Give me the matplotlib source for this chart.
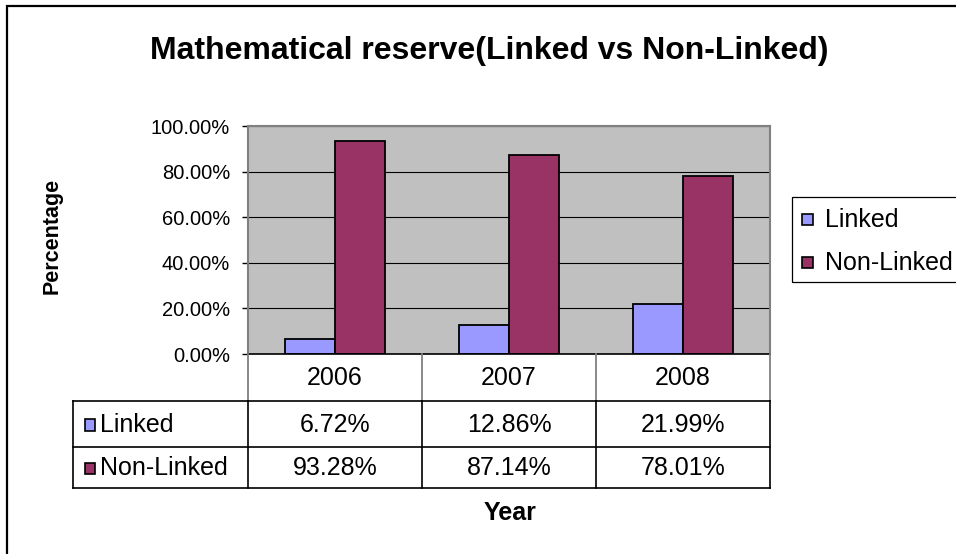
import matplotlib.pyplot as plt
from matplotlib.patches import Rectangle
import numpy as np

plt.rcParams['font.family'] = ['Liberation Sans', 'DejaVu Sans']

years = ['2006', '2007', '2008']
linked = [6.72, 12.86, 21.99]
non_linked = [93.28, 87.14, 78.01]
series_names = ['Linked', 'Non-Linked']
series_colors = ['#9999FF', '#993366']
yticks = [0, 20, 40, 60, 80, 100]

W, H = 956, 554


def fx(x):
    return x / W


def fy(y):
    return 1 - y / H


fig = plt.figure(figsize=(W / 100, H / 100), dpi=100)

# outer chart border
fig.patches.append(Rectangle((fx(7), fy(600)), fx(1000), fy(6) - fy(600),
                             transform=fig.transFigure, fill=False,
                             edgecolor='black', linewidth=1.6))

# plot area
px_l, px_r, px_t, px_b = 248, 770, 126, 354
ax = fig.add_axes([fx(px_l), fy(px_b), fx(px_r - px_l), fy(px_t) - fy(px_b)])
ax.set_facecolor('#C0C0C0')

x = np.arange(len(years))
w = 0.29
ax.bar(x - w / 2, linked, w, color=series_colors[0], edgecolor='black', linewidth=1.3, zorder=3)
ax.bar(x + w / 2, non_linked, w, color=series_colors[1], edgecolor='black', linewidth=1.3, zorder=3)

ax.set_xlim(-0.5, len(years) - 0.5)
ax.set_ylim(0, 100)
ax.set_yticks(yticks)
ax.set_yticklabels([f"{t:.2f}%" for t in yticks], fontsize=14.5)
ax.set_xticks([])
ax.tick_params(axis='y', direction='out', length=4, width=1, pad=9, color='black')
ax.grid(axis='y', color='black', linewidth=0.8, zorder=1)
for s in ['left', 'top', 'right']:
    ax.spines[s].set_color('#808080')
    ax.spines[s].set_linewidth(1.5)
ax.spines['bottom'].set_color('black')
ax.spines['bottom'].set_linewidth(1.2)
ax.spines['bottom'].set_zorder(4)

# data table below the plot
tl, tr, tt, tb = 73, 770, 354, 488
row_lines = [354, 400.5, 446.5, 488]
tab = fig.add_axes([fx(tl), fy(tb), fx(tr - tl), fy(tt) - fy(tb)])
data_per_px = 1 / ((px_r - px_l) / len(years))
tab.set_xlim(-0.5 - (px_l - tl) * data_per_px, len(years) - 0.5)
tab.set_ylim(tb, tt)
tab.axis('off')

left_edge = -0.5 - (px_l - tl) * data_per_px
col_edges = [-0.5 + i for i in range(len(years) + 1)]
# header row verticals (grey)
for ce in col_edges:
    tab.plot([ce, ce], [row_lines[0], row_lines[1]], color='#808080', lw=1.3, clip_on=False)
# data rows
for yl in row_lines[1:]:
    tab.plot([left_edge, col_edges[-1]], [yl, yl], color='black', lw=1.2, clip_on=False)
for ce in [left_edge] + col_edges:
    tab.plot([ce, ce], [row_lines[1], row_lines[-1]], color='black', lw=1.2, clip_on=False)

for i, yr in enumerate(years):
    tab.text(i, (row_lines[0] + row_lines[1]) / 2 + 1, yr, ha='center', va='center', fontsize=18)
for r, (name, vals, col) in enumerate(zip(series_names, [linked, non_linked], series_colors)):
    yc = (row_lines[r + 1] + row_lines[r + 2]) / 2 + 1
    for i, v in enumerate(vals):
        tab.text(i, yc, f"{v:.2f}%", ha='center', va='center', fontsize=18)
    fig.patches.append(Rectangle((fx(85), fy(yc + 6)), fx(10), fy(yc - 5) - fy(yc + 6),
                                 transform=fig.transFigure, facecolor=col,
                                 edgecolor='black', linewidth=1.2))
    fig.text(fx(100), fy(yc), name, ha='left', va='center', fontsize=18)

# legend
fig.patches.append(Rectangle((fx(792), fy(282)), fx(200), fy(197) - fy(282),
                             transform=fig.transFigure, fill=False,
                             edgecolor='black', linewidth=0.9))
for name, col, yc in zip(series_names, series_colors, [219, 262]):
    fig.patches.append(Rectangle((fx(802), fy(yc + 6)), fx(11), fy(yc - 5) - fy(yc + 6),
                                 transform=fig.transFigure, facecolor=col,
                                 edgecolor='black', linewidth=1.2))
    fig.text(fx(825), fy(yc + 1), name, ha='left', va='center', fontsize=18)

# titles
fig.text(fx(489), fy(51), "Mathematical reserve(Linked vs Non-Linked)",
         ha='center', va='center', fontsize=23, fontweight='bold')
fig.text(fx(52), fy(236), "Percentage", ha='center', va='center', rotation=90,
         fontsize=15.5, fontweight='bold')
fig.text(fx(510), fy(513), "Year", ha='center', va='center', fontsize=18, fontweight='bold')

fig.savefig('out.png', dpi=100)
